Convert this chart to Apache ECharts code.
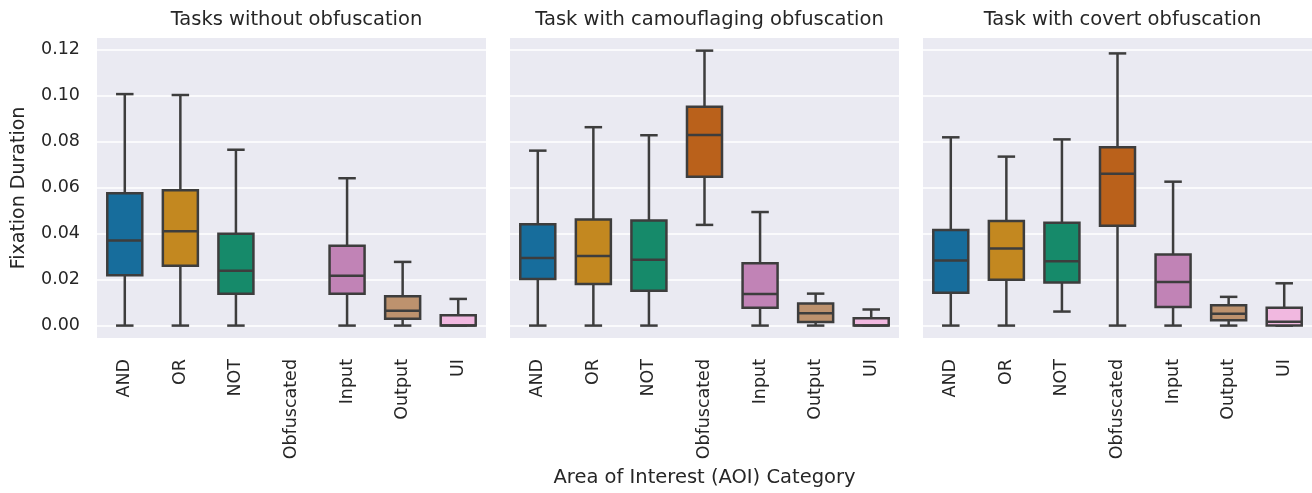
<!DOCTYPE html>
<html>
<head>
<meta charset="utf-8">
<script src="https://cdn.jsdelivr.net/npm/echarts@6/dist/echarts.min.js"></script>
<style>html,body{margin:0;padding:0;background:#fff;}#chart{width:1312px;height:493px;}</style>
</head>
<body>
<div id="chart"></div>
<script>
const categories = ['AND', 'OR', 'NOT', 'Obfuscated', 'Input', 'Output', 'UI'];
const panelTitles = ['Tasks without obfuscation', 'Task with camouflaging obfuscation', 'Task with covert obfuscation'];
const yTicks = [0, 0.02, 0.04, 0.06, 0.08, 0.10, 0.12];
// [whiskerLow, Q1, median, Q3, whiskerHigh]
const noObfuscation = [
  [0, 0.0219, 0.0370, 0.0576, 0.1007],
  [0, 0.0260, 0.0410, 0.0589, 0.1003],
  [0, 0.0139, 0.0239, 0.0400, 0.0765],
  null,
  [0, 0.0138, 0.0217, 0.0347, 0.0641],
  [0, 0.0030, 0.0065, 0.0128, 0.0277],
  [0, 0.0000, 0.0000, 0.0045, 0.0116]
];
const camouflaging = [
  [0, 0.0203, 0.0294, 0.0441, 0.0761],
  [0, 0.0181, 0.0303, 0.0461, 0.0863],
  [0, 0.0151, 0.0286, 0.0457, 0.0828],
  [0.0438, 0.0647, 0.0829, 0.0952, 0.1196],
  [0, 0.0078, 0.0137, 0.0271, 0.0494],
  [0, 0.0016, 0.0054, 0.0096, 0.0139],
  [0, 0.0000, 0.0000, 0.0032, 0.0070]
];
const covert = [
  [0, 0.0143, 0.0283, 0.0416, 0.0819],
  [0, 0.0199, 0.0335, 0.0455, 0.0735],
  [0.0061, 0.0187, 0.0280, 0.0447, 0.0810],
  [0, 0.0434, 0.0661, 0.0776, 0.1184],
  [0, 0.0081, 0.0190, 0.0309, 0.0626],
  [0, 0.0023, 0.0052, 0.0089, 0.0125],
  [0, 0.0000, 0.0017, 0.0078, 0.0184]
];
const panelData = [noObfuscation, camouflaging, covert];
const palette = ['#176d9c', '#c38820', '#168a6a', '#ba611b', '#c183b6', '#bd926e', '#f1b8e0'];

const FONT = 'DejaVu Sans';
const TEXT = '#262626';
const LINE = '#3d3d3d';
const LW = 2.5;

const gridLefts = [97, 510, 923];
const gridWidth = 389;

function renderBox(params, api) {
  const xi = api.value(0);
  const vals = [api.value(1), api.value(2), api.value(3), api.value(4), api.value(5)];
  const p = vals.map(v => api.coord([xi, v]));
  const cx = p[0][0];
  const bw = api.size([1, 0])[0] * 0.63;
  const cw = bw / 2;
  const st = {stroke: LINE, lineWidth: LW};
  return {
    type: 'group',
    children: [
      {type: 'line', shape: {x1: cx, y1: p[0][1], x2: cx, y2: p[1][1]}, style: st},
      {type: 'line', shape: {x1: cx, y1: p[3][1], x2: cx, y2: p[4][1]}, style: st},
      {type: 'line', shape: {x1: cx - cw / 2, y1: p[0][1], x2: cx + cw / 2, y2: p[0][1]}, style: st},
      {type: 'line', shape: {x1: cx - cw / 2, y1: p[4][1], x2: cx + cw / 2, y2: p[4][1]}, style: st},
      {type: 'rect', shape: {x: cx - bw / 2, y: p[3][1], width: bw, height: p[1][1] - p[3][1]},
        style: {fill: palette[xi], stroke: LINE, lineWidth: LW}},
      {type: 'line', shape: {x1: cx - bw / 2, y1: p[2][1], x2: cx + bw / 2, y2: p[2][1]}, style: st}
    ]
  };
}

const grids = [], xAxes = [], yAxes = [], series = [], titles = [];
for (let i = 0; i < 3; i++) {
  grids.push({left: gridLefts[i], width: gridWidth, top: 38, height: 300, show: true,
    backgroundColor: '#eaeaf2', borderWidth: 0, containLabel: false});
  xAxes.push({
    type: 'category', gridIndex: i, data: categories, boundaryGap: true,
    axisLine: {show: false}, axisTick: {show: false}, splitLine: {show: false},
    axisLabel: {rotate: 90, margin: 21, fontFamily: FONT, fontSize: 17.5, color: TEXT, interval: 0},
    name: i === 1 ? 'Area of Interest (AOI) Category' : '',
    nameLocation: 'middle', nameGap: 130,
    nameTextStyle: {fontFamily: FONT, fontSize: 19.5, color: TEXT}
  });
  yAxes.push({
    type: 'value', gridIndex: i, min: -0.0054, max: 0.1251,
    axisLine: {show: false},
    axisTick: {show: false, customValues: yTicks},
    axisLabel: {show: i === 0, customValues: yTicks, margin: 17, fontFamily: FONT, fontSize: 17.5, color: TEXT,
      formatter: v => v.toFixed(2)},
    splitLine: {show: true, lineStyle: {color: '#ffffff', width: 1.5}},
    name: i === 0 ? 'Fixation Duration' : '',
    nameLocation: 'middle', nameGap: 68, nameRotate: 90,
    nameTextStyle: {fontFamily: FONT, fontSize: 19, color: TEXT}
  });
  const data = [];
  panelData[i].forEach((d, k) => { if (d) data.push([k].concat(d)); });
  series.push({
    type: 'custom', xAxisIndex: i, yAxisIndex: i, renderItem: renderBox,
    data: data, encode: {x: 0, y: [1, 2, 3, 4, 5]}, silent: true, animation: false
  });
  titles.push({text: panelTitles[i], left: gridLefts[i] + gridWidth / 2, top: 5, textAlign: 'center',
    textStyle: {fontFamily: FONT, fontSize: 19.5, fontWeight: 'normal', color: TEXT}});
}

const chart = echarts.init(document.getElementById('chart'), null, {renderer: 'canvas'});
chart.setOption({
  backgroundColor: '#ffffff',
  animation: false,
  title: titles,
  grid: grids,
  xAxis: xAxes,
  yAxis: yAxes,
  series: series
});
</script>
</body>
</html>
